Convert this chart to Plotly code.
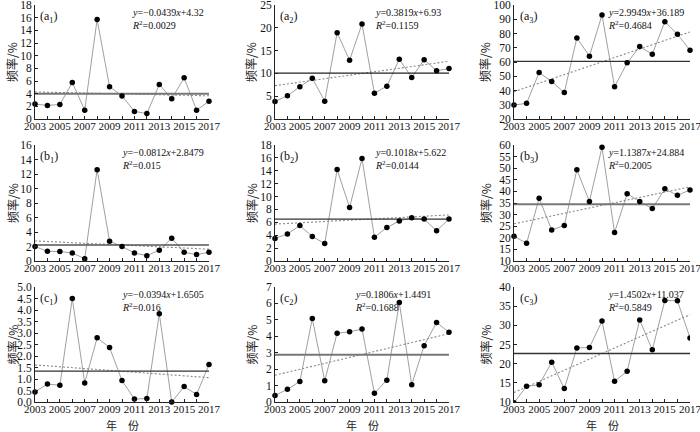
import numpy as np
import plotly.graph_objects as go

years = list(range(2003, 2018))

# ---- data (frequency, %) ----
a1 = [2.35, 2.15, 2.3, 5.75, 1.4, 15.7, 5.1, 3.65, 1.2, 0.85, 5.45, 3.2, 6.5, 1.4, 2.8]
a2 = [3.85, 5.1, 7.05, 8.95, 3.9, 18.9, 12.9, 20.85, 5.65, 7.2, 13.1, 9.1, 13.0, 10.6, 11.05]
a3 = [29.8, 31.0, 52.6, 46.3, 38.6, 76.9, 64.1, 93.0, 42.6, 59.4, 70.8, 65.5, 88.3, 79.5, 68.3]
b1 = [1.99, 1.34, 1.3, 1.1, 0.32, 12.6, 2.73, 2.0, 1.1, 0.74, 1.48, 3.15, 1.2, 0.88, 1.2]
b2 = [3.5, 4.2, 5.5, 3.8, 2.7, 14.2, 8.3, 15.9, 3.7, 5.2, 6.2, 6.7, 6.5, 4.7, 6.5]
b3 = [20.7, 17.6, 37.0, 23.4, 25.3, 49.3, 35.7, 59.0, 22.3, 39.0, 35.6, 32.6, 41.1, 38.3, 40.6]
c1 = [0.44, 0.78, 0.73, 4.5, 0.83, 2.79, 2.37, 0.93, 0.13, 0.15, 3.84, 0.0, 0.67, 0.33, 1.63]
c2 = [0.4, 0.77, 1.25, 5.08, 1.29, 4.19, 4.27, 4.44, 0.54, 1.33, 6.05, 1.05, 3.43, 4.84, 4.25]
c3 = [9.8, 14.1, 14.5, 20.4, 13.5, 24.1, 24.2, 31.1, 15.4, 18.0, 31.4, 23.6, 36.5, 36.4, 26.7]

series = [a1, a2, a3, b1, b2, b3, c1, c2, c3]
labels = ["(a<sub>1</sub>)", "(a<sub>2</sub>)", "(a<sub>3</sub>)",
          "(b<sub>1</sub>)", "(b<sub>2</sub>)", "(b<sub>3</sub>)",
          "(c<sub>1</sub>)", "(c<sub>2</sub>)", "(c<sub>3</sub>)"]
slopes = [-0.0439, 0.3819, 2.9949, -0.0812, 0.1018, 1.1387, -0.0394, 0.1806, 1.4502]
intercepts = [4.32, 6.93, 36.189, 2.8479, 5.622, 24.884, 1.6505, 1.4491, 11.037]
eq_texts = ["−0.0439", "0.3819", "2.9949", "−0.0812", "0.1018", "1.1387", "−0.0394", "0.1806", "1.4502"]
int_texts = ["4.32", "6.93", "36.189", "2.8479", "5.622", "24.884", "1.6505", "1.4491", "11.037"]
r2_texts = ["0.0029", "0.1159", "0.4684", "0.015", "0.0144", "0.2005", "0.016", "0.1688", "0.5849"]
y_ranges = [(0, 18), (0, 25), (20, 100), (0, 16), (0, 18), (10, 60), (0, 5), (0, 7), (10, 40)]
y_dticks = [2, 5, 10, 2, 2, 5, 0.5, 1, 5]
y_formats = ["d", "d", "d", "d", "d", "d", ".1f", "d", "d"]

# ---- layout geometry (paper fractions) ----
W, H = 700, 432
col_px = [(35, 209), (275, 449), (514, 690)]
row_px = [(5, 119), (145, 261), (287, 402)]
eq_x = [0.546, 0.563, 0.534, 0.49, 0.563, 0.54, 0.49, 0.448, 0.534]
ytitle_px = [12, 251, 485]
mean_col = ["#777", "#222", "#333", "#555", "#333", "#777", "#333", "#777", "#333"]
mean_w = [2.0, 1.3, 1.3, 1.5, 1.3, 2.0, 1.3, 2.0, 1.3]
clip = [False, False, False, False, False, False, False, False, True]

serif = "Liberation Serif, Times New Roman, serif"
cjk = "Noto Sans CJK SC"

fig = go.Figure()
layout = dict(
    width=W, height=H, margin=dict(l=0, r=0, t=0, b=0),
    paper_bgcolor="white", plot_bgcolor="white", showlegend=False,
    font=dict(family=serif, size=11, color="#111"),
)
annotations = []

for k in range(9):
    r, c = divmod(k, 3)
    ax = "" if k == 0 else str(k + 1)
    xref, yref = "x" + ax, "y" + ax
    vals = series[k]
    idx = np.arange(1, len(years) + 1)
    trend = slopes[k] * idx + intercepts[k]
    mean = float(np.mean(vals))

    fig.add_trace(go.Scatter(x=years, y=vals, mode="lines", xaxis=xref, yaxis=yref,
                             line=dict(color="#a0a0a0", width=1), cliponaxis=clip[k]))
    fig.add_trace(go.Scatter(x=years, y=trend, mode="lines", xaxis=xref, yaxis=yref,
                             line=dict(color="#888", width=1.1, dash="2px,2px")))
    fig.add_trace(go.Scatter(x=[years[0], years[-1]], y=[mean, mean], mode="lines",
                             xaxis=xref, yaxis=yref,
                             line=dict(color=mean_col[k], width=mean_w[k])))
    fig.add_trace(go.Scatter(x=years, y=vals, mode="markers", xaxis=xref, yaxis=yref,
                             marker=dict(color="black", size=5.5), cliponaxis=clip[k]))

    x0, x1 = col_px[c]
    y0, y1 = row_px[r]
    layout["xaxis" + ax] = dict(
        domain=[x0 / W, x1 / W], anchor=yref, range=[2003, 2017],
        tickmode="linear", tick0=2003, dtick=2, ticks="inside", ticklen=3,
        tickangle=0, ticklabeloverflow="allow", ticklabelstandoff=-3,
        tickcolor="#222", showline=True, linecolor="#222", linewidth=1,
        showgrid=False, zeroline=False, tickfont=dict(family=serif, size=11),
        minor=dict(dtick=1, tick0=2003, ticks="inside", ticklen=3, tickcolor="#222"),
        automargin=False,
    )
    ylo, yhi = y_ranges[k]
    layout["yaxis" + ax] = dict(
        domain=[1 - y1 / H, 1 - y0 / H], anchor=xref, range=[ylo, yhi],
        tickmode="linear", tick0=ylo, dtick=y_dticks[k], tickformat=y_formats[k],
        ticks="inside", ticklen=3, tickcolor="#222", showline=True,
        ticklabeloverflow="allow",
        linecolor="#222", linewidth=1, showgrid=False, zeroline=False,
        tickfont=dict(family=serif, size=11.5), automargin=False,
    )

    annotations.append(dict(
        text=labels[k], xref=xref + " domain", yref=yref + " domain",
        x=0.02, y=0.985, xanchor="left", yanchor="top", showarrow=False,
        font=dict(family=serif, size=12)))
    eq = dict(
        text="<i>y</i>=" + eq_texts[k] + "<i>x</i>+" + int_texts[k]
             + "<br><i>R</i><sup>2</sup>=" + r2_texts[k],
        xref=xref + " domain", yref=yref + " domain",
        x=eq_x[k], y=1.0, xanchor="left", yanchor="top", align="left",
        showarrow=False, font=dict(family=serif, size=10))
    if c == 2:
        eq["x"] = 0.975
        eq["xanchor"] = "right"
        eq["align"] = "left"
    annotations.append(eq)
    annotations.append(dict(
        text="频率/%", xref="paper", yref="paper",
        x=ytitle_px[c] / W, y=1 - (y0 + y1) / 2 / H, textangle=-90,
        xanchor="center", yanchor="middle", showarrow=False,
        font=dict(family=cjk, size=12, color="#222")))

for c in range(3):
    x0, x1 = col_px[c]
    annotations.append(dict(
        text="年　份", xref="paper", yref="paper",
        x=(x0 + x1) / 2 / W, y=1 - 425 / H, xanchor="center", yanchor="middle",
        showarrow=False, font=dict(family=cjk, size=11, color="#222")))

layout["annotations"] = annotations
fig.update_layout(**layout)
fig.write_html("out.html", config={"displayModeBar": False},
               post_script="document.body.style.margin='0px';document.body.style.overflow='hidden';")
